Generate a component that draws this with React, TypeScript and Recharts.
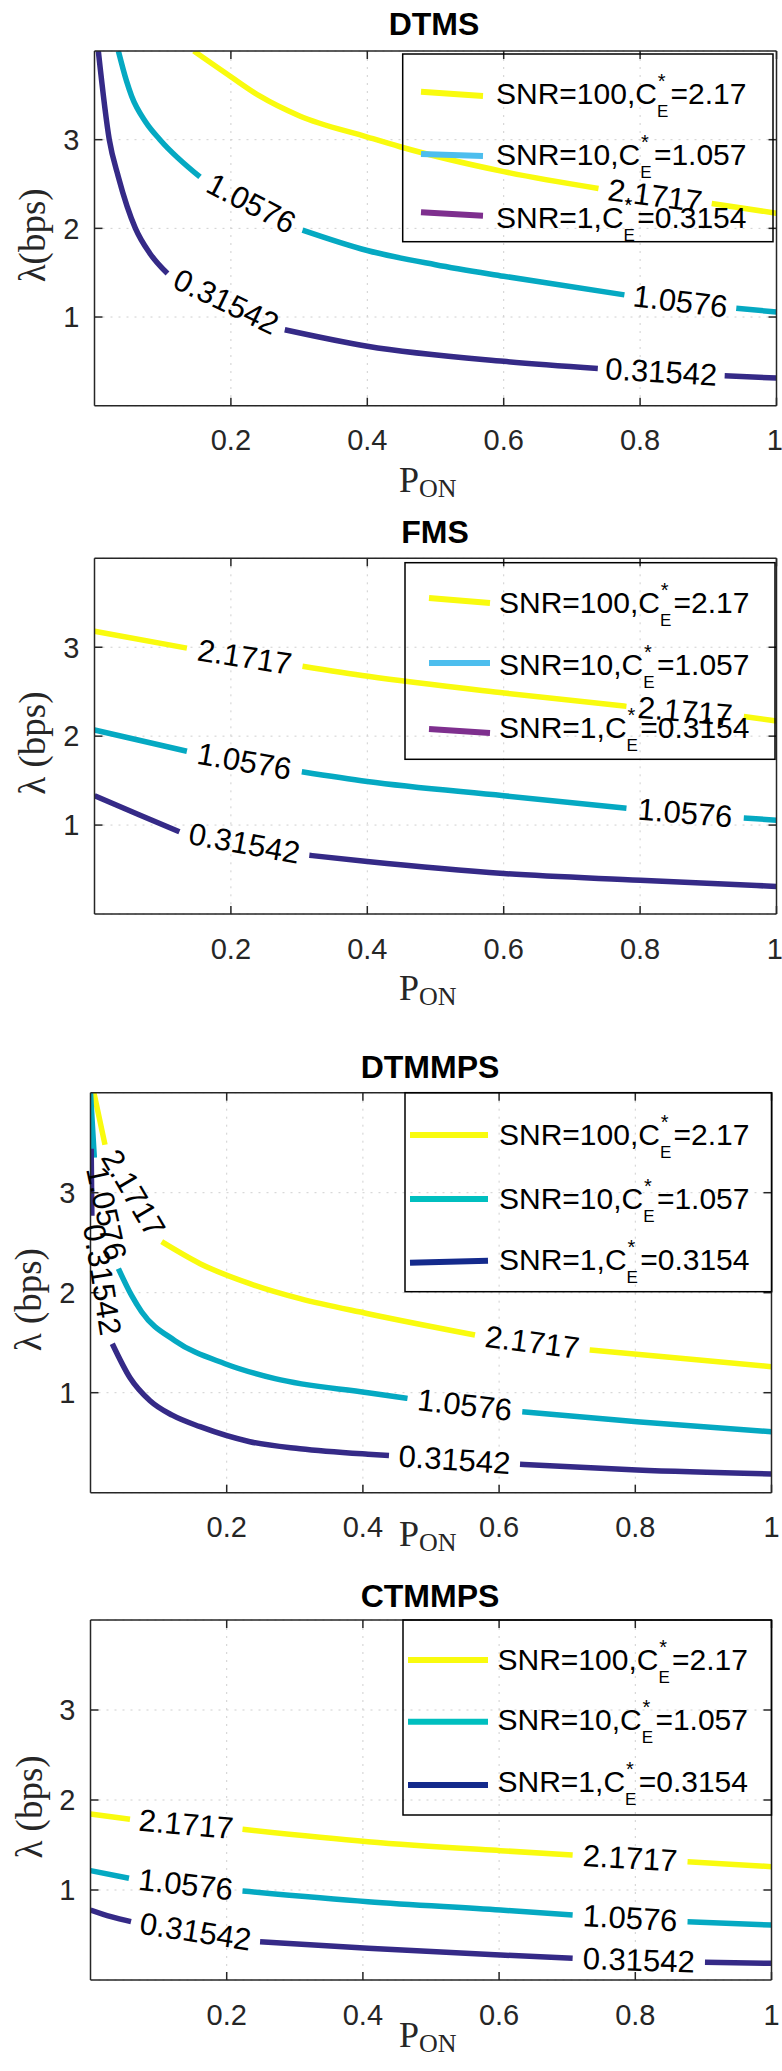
// Contour lines of lambda vs P_ON for four schemes, recreated with recharts
import React from "react";
import { LineChart, Line, XAxis, YAxis, CartesianGrid, ReferenceDot } from "recharts";

type Seg = number[][];
type Curve = Seg[];

const xTicks = [0.2, 0.4, 0.6, 0.8, 1];
const yTicks = [1, 2, 3];
const levelLabels = ["2.1717", "1.0576", "0.31542"];
const legendNames = ["SNR=100,C", "SNR=10,C", "SNR=1,C"];
const legendValues = ["=2.17", "=1.057", "=0.3154"];
const titles = ["DTMS", "FMS", "DTMMPS", "CTMMPS"];

// every curve is a list of segments [P_ON, lambda]; a level label sits in each gap
const dtmsHigh: Curve = [
  [[0.1455, 4.0], [0.2, 3.71], [0.2427, 3.49], [0.3, 3.27], [0.4, 3.03], [0.448, 2.92], [0.6, 2.64], [0.739, 2.45]],
  [[0.905, 2.28], [1.0, 2.17]],
];
const dtmsMid: Curve = [
  [[0.035, 4.0], [0.047, 3.66], [0.0545, 3.49], [0.075, 3.2], [0.096, 3.0], [0.1547, 2.58]],
  [[0.305, 1.98], [0.4, 1.75], [0.5, 1.59], [0.6, 1.46], [0.777, 1.25]],
  [[0.941, 1.1], [1.0, 1.056]],
];
const dtmsLow: Curve = [
  [[0.0056, 4.0], [0.0217, 3.0], [0.035, 2.58], [0.06, 2.0], [0.081, 1.72], [0.107, 1.49]],
  [[0.279, 0.856], [0.4, 0.67], [0.6, 0.5], [0.738, 0.42]],
  [[0.924, 0.338], [1.0, 0.312]],
];

const fmsHigh: Curve = [
  [[0, 3.18], [0.1355, 2.99]],
  [[0.305, 2.786], [0.401, 2.673], [0.601, 2.485], [0.78, 2.335]],
  [[0.952, 2.22], [1.0, 2.17]],
];
const fmsMid: Curve = [
  [[0, 2.07], [0.1355, 1.83]],
  [[0.304, 1.6], [0.4, 1.49], [0.6, 1.33], [0.78, 1.19]],
  [[0.952, 1.08], [1.0, 1.055]],
];
const fmsLow: Curve = [
  [[0, 1.33], [0.067, 1.11], [0.1245, 0.925]],
  [[0.315, 0.66], [0.4, 0.59], [0.6, 0.455], [0.8, 0.38], [1.0, 0.31]],
];

const dtmmpsHigh: Curve = [
  [[0.005, 4.0], [0.0213, 3.48]],
  [[0.1045, 2.51], [0.161, 2.29], [0.234, 2.09], [0.3076, 1.94], [0.4075, 1.79], [0.5646, 1.577]],
  [[0.733, 1.427], [0.89, 1.33], [1.0, 1.26]],
];
const dtmmpsMid: Curve = [
  [[0.0, 4.0], [0.0056, 3.35]],
  [[0.041, 2.24], [0.0605, 1.97], [0.075, 1.81], [0.124, 1.52], [0.1975, 1.29], [0.271, 1.14], [0.4075, 1.0], [0.4655, 0.943]],
  [[0.634, 0.81], [0.8025, 0.71], [1.0, 0.61]],
];
const dtmmpsLow: Curve = [
  [[0.001, 3.44], [0.002, 2.77]],
  [[0.032, 1.49], [0.058, 1.15], [0.0874, 0.92], [0.12, 0.775], [0.161, 0.66], [0.234, 0.51], [0.3076, 0.44], [0.4075, 0.385], [0.4383, 0.372]],
  [[0.6307, 0.285], [0.8025, 0.227], [1.0, 0.187]],
];

const ctmmpsHigh: Curve = [
  [[0, 1.844], [0.058, 1.785]],
  [[0.2232, 1.674], [0.4075, 1.537], [0.602, 1.437], [0.708, 1.389]],
  [[0.8767, 1.315], [1.0, 1.259]],
];
const ctmmpsMid: Curve = [
  [[0, 1.215], [0.0565, 1.13]],
  [[0.2232, 0.989], [0.4075, 0.87], [0.602, 0.778], [0.708, 0.722]],
  [[0.8767, 0.648], [1.0, 0.611]],
];
const ctmmpsLow: Curve = [
  [[0, 0.778], [0.03, 0.704], [0.0595, 0.648]],
  [[0.249, 0.426], [0.4075, 0.352], [0.602, 0.278], [0.708, 0.241]],
  [[0.9023, 0.197], [1.0, 0.185]],
];

const curveColors = ["#f9fb0e", "#05a9c2", "#352a87"];
const legendColorsA = ["#f9fb0e", "#4dbeee", "#7e2f8e"];
const legendColorsB = ["#f9fb0e", "#00bfbf", "#142a8c"];

const SANS = "'Liberation Sans', Arial, Helvetica, sans-serif";
const SERIF = "'Liberation Serif', 'Times New Roman', serif";

interface Panel {
  title: string;
  yLabel: string;
  curves: Curve[];
  legendColors: string[];
  top: number;
  height: number;
  plot: { left: number; right: number; top: number; bottom: number };
  titleX: number;
  titleY: number;
  xLabelY: number;
  yLabelX: number;
  legend: { x: number; y: number; w: number; h: number; lineX1: number; lineX2: number; textX: number; rows: number[]; lines: number[][] };
}

const panels: Panel[] = [
  {
    title: titles[0], yLabel: "λ(bps)", curves: [dtmsHigh, dtmsMid, dtmsLow], legendColors: legendColorsA,
    top: 0, height: 500, plot: { left: 94.5, right: 776.5, top: 51, bottom: 405.7 },
    titleX: 434, titleY: 35, xLabelY: 492, yLabelX: 33,
    legend: { x: 402.7, y: 54, w: 370.3, h: 187.7, lineX1: 421, lineX2: 483, textX: 496, rows: [104, 165, 228], lines: [[91.7, 96], [154, 156], [212.3, 215.7]] },
  },
  {
    title: titles[1], yLabel: "λ (bps)", curves: [fmsHigh, fmsMid, fmsLow], legendColors: legendColorsA,
    top: 500, height: 520, plot: { left: 94.5, right: 776.5, top: 558.3, bottom: 914 },
    titleX: 435, titleY: 542.7, xLabelY: 1000, yLabelX: 33,
    legend: { x: 405, y: 562.7, w: 370, h: 196.6, lineX1: 429, lineX2: 490, textX: 499, rows: [613, 675, 738], lines: [[598, 603], [663, 663], [729, 733]] },
  },
  {
    title: titles[2], yLabel: "λ (bps)", curves: [dtmmpsHigh, dtmmpsMid, dtmmpsLow], legendColors: legendColorsB,
    top: 1020, height: 540, plot: { left: 90.5, right: 771.5, top: 1092.7, bottom: 1492.7 },
    titleX: 430, titleY: 1078, xLabelY: 1546, yLabelX: 29,
    legend: { x: 405, y: 1092.7, w: 366.7, h: 199, lineX1: 410, lineX2: 488, textX: 499, rows: [1145, 1209, 1270], lines: [[1135, 1135], [1199, 1199], [1262.7, 1260.7]] },
  },
  {
    title: titles[3], yLabel: "λ (bps)", curves: [ctmmpsHigh, ctmmpsMid, ctmmpsLow], legendColors: legendColorsB,
    top: 1560, height: 511, plot: { left: 90.5, right: 771.5, top: 1620, bottom: 1980 },
    titleX: 430, titleY: 1606.7, xLabelY: 2047, yLabelX: 29,
    legend: { x: 403, y: 1620, w: 368.5, h: 195, lineX1: 408, lineX2: 488, textX: 497.5, rows: [1670, 1730, 1792], lines: [[1660, 1660], [1721.7, 1721.7], [1785, 1785]] },
  },
];

// flatten segments into one series, with a null point in each gap so the line breaks
const toSeries = (curve: Curve) => {
  const out: { p: number; lam: number | null }[] = [];
  curve.forEach((seg, i) => {
    if (i > 0) {
      const prev = curve[i - 1][curve[i - 1].length - 1];
      out.push({ p: (prev[0] + seg[0][0]) / 2, lam: null });
    }
    seg.forEach(([p, lam]) => out.push({ p, lam }));
  });
  return out;
};

const contourLabel = (text: string, angle: number) => (props: any) => {
  const vb = props.viewBox || {};
  const cx = (vb.x ?? 0) + (vb.width ?? 0) / 2;
  const cy = (vb.y ?? 0) + (vb.height ?? 0) / 2;
  return (
    <text
      x={cx}
      y={cy}
      transform={`rotate(${angle} ${cx} ${cy})`}
      textAnchor="middle"
      dominantBaseline="central"
      fontFamily={SANS}
      fontSize={31}
      fill="#000"
    >
      {text}
    </text>
  );
};

const PanelChart: React.FC<{ panel: Panel }> = ({ panel }) => {
  const { plot } = panel;
  const w = plot.right - plot.left;
  const h = plot.bottom - plot.top;
  // axes are 1px thick, so the margins leave room for them
  const margin = {
    top: plot.top - panel.top - 1,
    bottom: panel.top + panel.height - plot.bottom - 1,
    left: plot.left - 1,
    right: 782 - plot.right - 1,
  };
  const tickStyle = { fontSize: 29, fill: "#262626", fontFamily: SANS };
  const axisLine = { stroke: "#262626", strokeWidth: 1.5 };

  const labels: { p: number; lam: number; text: string; angle: number }[] = [];
  panel.curves.forEach((curve, ci) => {
    for (let i = 1; i < curve.length; i++) {
      const a = curve[i - 1][curve[i - 1].length - 1];
      const b = curve[i][0];
      const angle = (Math.atan2(((a[1] - b[1]) * h) / 4, (b[0] - a[0]) * w) * 180) / Math.PI;
      labels.push({ p: (a[0] + b[0]) / 2, lam: (a[1] + b[1]) / 2, text: levelLabels[ci], angle });
    }
  });

  return (
    <div style={{ position: "absolute", left: 0, top: panel.top }}>
      <LineChart width={782} height={panel.height} margin={margin}>
        <CartesianGrid stroke="#cfcfcf" strokeDasharray="2 6" strokeWidth={1} />
        <XAxis
          dataKey="p"
          type="number"
          domain={[0, 1]}
          ticks={xTicks}
          allowDataOverflow
          height={1}
          tick={tickStyle}
          tickSize={-8}
          tickMargin={32}
          axisLine={axisLine}
          tickLine={axisLine}
        />
        <XAxis
          xAxisId="top"
          orientation="top"
          dataKey="p"
          type="number"
          domain={[0, 1]}
          ticks={xTicks}
          allowDataOverflow
          height={1}
          tickFormatter={() => ""}
          tickSize={-8}
          axisLine={axisLine}
          tickLine={axisLine}
        />
        <YAxis
          type="number"
          domain={[0, 4]}
          ticks={yTicks}
          allowDataOverflow
          width={1}
          tick={tickStyle}
          tickSize={-8}
          tickMargin={23}
          axisLine={axisLine}
          tickLine={axisLine}
        />
        <YAxis
          yAxisId="right"
          orientation="right"
          type="number"
          domain={[0, 4]}
          ticks={yTicks}
          allowDataOverflow
          width={1}
          tickFormatter={() => ""}
          tickSize={-8}
          axisLine={axisLine}
          tickLine={axisLine}
        />
        {panel.curves.map((curve, ci) => (
          <Line
            key={ci}
            data={toSeries(curve)}
            dataKey="lam"
            type="monotone"
            stroke={curveColors[ci]}
            strokeWidth={5.5}
            dot={false}
            activeDot={false}
            connectNulls={false}
            isAnimationActive={false}
          />
        ))}
        {labels.map((l, i) => (
          <ReferenceDot
            key={i}
            x={l.p}
            y={l.lam}
            r={0}
            fill="none"
            stroke="none"
            ifOverflow="visible"
            label={contourLabel(l.text, l.angle)}
          />
        ))}
      </LineChart>
    </div>
  );
};

const Overlay: React.FC = () => (
  <svg width={782} height={2071} style={{ position: "absolute", left: 0, top: 0, pointerEvents: "none" }}>
    {panels.map((panel, pi) => {
      const lg = panel.legend;
      const midY = (panel.plot.top + panel.plot.bottom) / 2 + 7;
      return (
        <g key={pi}>
          <text x={panel.titleX} y={panel.titleY} textAnchor="middle" fontFamily={SANS} fontWeight="bold" fontSize={32} fill="#000">
            {panel.title}
          </text>
          <text x={399} y={panel.xLabelY} fontFamily={SERIF} fontSize={36} fill="#262626">
            P<tspan fontSize={26} dy={5}>ON</tspan>
          </text>
          <text
            x={panel.yLabelX}
            y={midY}
            transform={`rotate(-90 ${panel.yLabelX} ${midY})`}
            textAnchor="middle"
            dominantBaseline="central"
            fontFamily={SERIF}
            fontSize={37}
            fill="#262626"
          >
            {panel.yLabel}
          </text>
          <rect x={lg.x} y={lg.y} width={lg.w} height={lg.h} fill="none" stroke="#000" strokeWidth={1.5} />
          {legendNames.map((name, ri) => (
            <g key={ri}>
              <line
                x1={lg.lineX1}
                x2={lg.lineX2}
                y1={lg.lines[ri][0]}
                y2={lg.lines[ri][1]}
                stroke={panel.legendColors[ri]}
                strokeWidth={6}
              />
              <text x={lg.textX} y={lg.rows[ri]} fontFamily={SANS} fontSize={30} fill="#000">
                {name}
                <tspan fontSize={17} dy={12.7}>E</tspan>
                <tspan fontSize={20} dx={-10.5} dy={-29}>*</tspan>
                <tspan dx={5} dy={16.3}>{legendValues[ri]}</tspan>
              </text>
            </g>
          ))}
        </g>
      );
    })}
  </svg>
);

export default function App() {
  return (
    <div style={{ position: "absolute", left: 0, top: 0, width: 782, height: 2071, background: "#fff", overflow: "hidden" }}>
      {panels.map((p, i) => (
        <PanelChart key={i} panel={p} />
      ))}
      <Overlay />
    </div>
  );
}
